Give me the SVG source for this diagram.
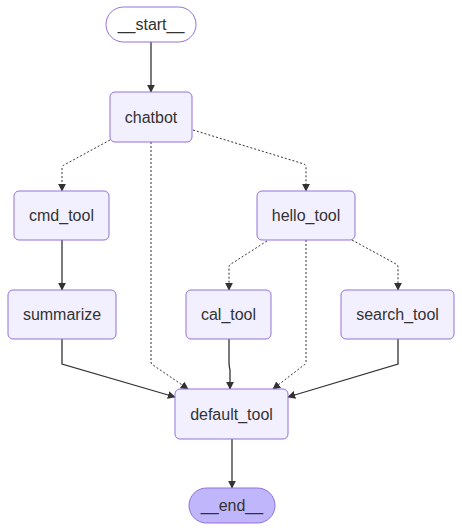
<svg xmlns="http://www.w3.org/2000/svg" width="462" height="531" viewBox="0 0 462 531">
<style>
.node rect{fill:#f2f0ff;stroke:#9370db;stroke-width:1}
.node.first rect{fill:#ffffff}
.node.last rect{fill:#bfb6fc}
.node text{font-family:"Liberation Sans",Arial,sans-serif;font-size:16px;fill:#333333;text-anchor:middle;dominant-baseline:central}
.edge{fill:none;stroke:#333333;stroke-width:1.3}
.dot{stroke-dasharray:2 2;stroke-width:1}
</style>
<defs>
<marker id="arr" viewBox="0 0 10 10" refX="9" refY="5" markerWidth="8" markerHeight="8" markerUnits="userSpaceOnUse" orient="auto">
<path d="M0,0L10,5L0,10z" fill="#333333"/>
</marker>
</defs>
<rect width="462" height="531" fill="#ffffff"/>
<g id="edges">
<path class="edge" d="M151,42V92" marker-end="url(#arr)"/>
<path class="edge dot" d="M110,140L64,165Q62,166 62,168V191" marker-end="url(#arr)"/>
<path class="edge dot" d="M151,142V362Q151,364 153,365L188,389" marker-end="url(#arr)"/>
<path class="edge dot" d="M193,130L304,164Q306,165 306,167V191" marker-end="url(#arr)"/>
<path class="edge" d="M62,240V290" marker-end="url(#arr)"/>
<path class="edge dot" d="M267,241L231,264Q229,265 229,267V290" marker-end="url(#arr)"/>
<path class="edge dot" d="M306,240V362Q306,364 304,365L273,389" marker-end="url(#arr)"/>
<path class="edge dot" d="M352,240L396,264Q398,265 398,267V290" marker-end="url(#arr)"/>
<path class="edge" d="M62,339V364L175,397" marker-end="url(#arr)"/>
<path class="edge" d="M229,339V362Q229,366 230,370V389" marker-end="url(#arr)"/>
<path class="edge" d="M398,339V364L288,397" marker-end="url(#arr)"/>
<path class="edge" d="M232,439V488" marker-end="url(#arr)"/>
</g>
<g id="start" class="node first"><rect x="106" y="7" width="90" height="35" rx="17.5"/><text x="151" y="24.5">__start__</text></g>
<g id="chatbot" class="node"><rect x="110" y="92" width="82" height="50" rx="5"/><text x="151" y="117">chatbot</text></g>
<g id="cmd_tool" class="node"><rect x="14" y="191" width="95" height="49" rx="5"/><text x="61.5" y="215.5">cmd_tool</text></g>
<g id="hello_tool" class="node"><rect x="257" y="191" width="98" height="49" rx="5"/><text x="306" y="215.5">hello_tool</text></g>
<g id="summarize" class="node"><rect x="8" y="290" width="108" height="49" rx="5"/><text x="62" y="314.5">summarize</text></g>
<g id="cal_tool" class="node"><rect x="186" y="290" width="85" height="49" rx="5"/><text x="228.5" y="314.5">cal_tool</text></g>
<g id="search_tool" class="node"><rect x="341" y="290" width="113" height="49" rx="5"/><text x="397.5" y="314.5">search_tool</text></g>
<g id="default_tool" class="node"><rect x="175" y="389" width="113" height="50" rx="5"/><text x="231.5" y="414">default_tool</text></g>
<g id="end" class="node last"><rect x="189" y="488" width="86" height="35" rx="17.5"/><text x="232" y="505.5">__end__</text></g>
</svg>
